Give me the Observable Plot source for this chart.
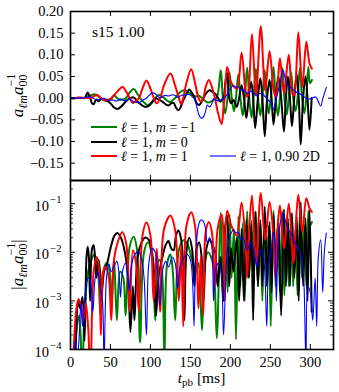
<!DOCTYPE html>
<html><head><meta charset="utf-8">
<script src="https://cdn.jsdelivr.net/npm/d3@7"></script>
<script src="https://cdn.jsdelivr.net/npm/@observablehq/plot@0.6"></script>
<style>
body{margin:0;background:#fff;}
#wrap{position:relative;width:339px;height:392px;}
#wrap svg{position:absolute;left:0;overflow:visible;}
</style></head><body><div id="wrap"></div>
<script>
// ---- data: [t_pb (ms), a_lm / a_00] ----
const green = [
[0,1e-6],[5,3e-5],[8,3e-4],[11,5e-4],[14.5,4e-5],[18,8e-4],[22,0.004],[26,0.007],[30,0.009],[34,0.005],[37.5,5e-4],[41,-0.004],[45,-0.006],[49,-0.004],[51,-6e-4],[54.5,0.007],[58,4e-4],[62,-0.004],[66,-0.003],[69,-5e-4],[74,0.013],[79,0.021],[83,0.012],[87,1.4e-4],[92,-0.01],[97,-0.016],[102,-0.008],[106,4e-4],[109,0.006],[112,0.007],[115,0.003],[117.5,6e-5],[121,-0.006],[125,-0.009],[128,-0.004],[131,4e-4],[136,0.012],[142,0.018],[147,0.014],[152,0.007],[157,0.004],[160,0.006],[164.5,2.5e-4],[168,-0.006],[172,-0.01],[177,-0.007],[180,-0.003],[183,1.7e-4],
[188,0.065],[190.5,2e-3],[193.5,-0.035],[196.5,1.5e-3],
[199,0.06],[201.5,3e-3],[204.5,-0.03],[207,1.6e-4],
[210,0.055],[212.5,2e-3],[215.5,-0.04],[218,1e-3],
[221,0.07],[223.5,3e-3],[226.5,-0.045],[229,2e-3],
[232,0.068],[234.5,2e-3],[237.5,-0.04],[240,1e-3],
[243,0.065],[245.5,2e-3],[248,-0.035],[250.5,3e-4],
[254,0.072],[256.5,2e-3],[259.5,-0.04],[262,1.5e-3],
[265,0.07],[267.5,1.3e-3],[270.5,-0.038],[273,2e-3],
[276,0.06],[278.5,2e-3],[281.5,-0.03],[284,1.3e-3],
[287,0.07],[289.5,3e-3],[292.5,-0.035],[295,2e-3],
[297.5,0.072],[299.5,0.035],[302,0.042]
];
const black = [
[0,1e-6],[4,2e-5],[7,2e-4],[9.5,1e-3],[12,7e-4],[15,1.2e-3],[17.5,1.5e-4],[20,0.008],[21.5,0.013],[23,0.008],[24.5,1e-3],[27,-0.012],[29,-0.014],[31,-0.006],[32.5,-0.003],[35,-0.007],[37,-0.004],[39,-0.0014],[42,-0.004],[46,-0.006],[50,-0.012],[55,-0.022],[58.5,-0.025],[63,-0.02],[68,-0.01],[72,-0.003],[75,-2.3e-4],[78,0.002],[80,4e-4],[84,-0.008],[89,-0.016],[93,-0.02],[98,-0.018],[102,-0.01],[105,-0.003],[107,-5e-4],[110,-0.003],[115,-0.008],[119,-0.014],[122.5,-0.017],[126,-0.012],[129,-0.011],[132,-0.022],[135,-0.028],[138,-0.02],[141,-0.005],[142.5,-4e-4],[145,0.01],[148.5,0.02],[152,0.012],[155,2e-3],[158,-0.012],[161,-0.016],[164,-0.008],[166.5,1e-3],[170,0.012],[174,0.018],[177,0.015],[181,0.01],[184,2e-3],[187.5,-0.008],[190,-2e-3],[191.5,1e-3],[194,0.04],[196,0.058],
[198.5,2e-3],[201,-0.012],[204,-0.004],[208,-0.02],[211,1e-3],[214,0.03],[217,1e-3],[220,-0.046],[223,3e-3],[226,0.038],[228.5,4e-4],[231,-0.069],[234.5,2e-3],[237.5,0.046],[240,2e-3],[243,-0.088],[246,2e-3],[249,0.042],[251.5,1.5e-3],[254,-0.061],[257,3e-3],[260,0.05],[263.5,5e-4],[267,-0.077],[269.5,2e-3],[272,0.05],[274.5,2e-3],[277,-0.064],[280,3e-3],[283,0.055],[285.5,1e-3],[288,-0.107],[291,2e-3],[294,0.05],[296.5,1e-3],[299,-0.073],[301.7,6e-4]
];
const red = [
[0,1e-6],[4,1e-4],[7,6e-4],[10,1.1e-3],[13,8e-4],[16,4e-4],[19,9e-4],[22,3e-4],[25,3e-5],[29,0.004],[33,0.008],[36,0.004],[38,2e-4],[41,-0.004],[44,-0.005],[48,-0.003],[51,-4e-4],[54,0.006],[58,0.014],[65,0.026],[70,0.014],[74,6e-4],[78,-0.011],[82,-0.006],[85.5,-6e-4],[90,0.022],[95,0.041],[100,0.022],[104,1e-3],[108,-0.012],[112,-6e-4],[117,0.03],[125,0.057],[131,0.028],[135.5,1e-3],[138.5,-0.014],[141,-3e-4],[145,0.035],[151,0.067],[156,0.033],[160,7e-4],[163,-0.008],[166,-5e-4],[169,0.025],[173,0.042],[177,0.025],[180.5,2e-3],[184,-0.03],[189,-0.06],[191.5,-0.02],[193,1e-3],[196,0.072],[201,0.036],[208,0.022],[214,0.105],[219,0.015],[221,3e-3],[223,0.02],[227,0.148],[232,0.006],[238,0.166],[243.5,0.018],[249,0.108],[254,0.02],[256.5,3e-3],[259,0.03],[262,0.092],[267,0.012],[273,0.1],[277,0.015],[279,6e-3],[281,0.02],[285,0.152],[290,0.026],[295,0.13],[299,0.08],[302,0.068]
];
const blue = [
[0,1e-6],[3,6e-5],[6,1.5e-4],[8,5e-5],[11,2e-4],[13,9e-4],[15,3e-4],[18,1.2e-3],[22,0.003],[25,0.0025],[28,6e-4],[31,-0.003],[34,-0.004],[37,-0.002],[40,-0.001],[42,-6e-5],[45,-0.003],[48,-0.0058],[51,-0.004],[54,-0.005],[58,-0.0065],[61,-0.003],[62.5,-0.0012],[65,-0.004],[69,-0.006],[72,-0.003],[73.5,-0.0016],[76,-0.005],[80,-0.0088],[85,-0.0103],[89,-0.007],[92,-0.003],[95,-2e-4],[98,0.006],[102,0.012],[106,0.01],[109,0.004],[112,8e-4],[115,0.004],[119,0.0065],[123,0.005],[127,0.008],[131,0.006],[134,0.0018],[137,0.005],[142,0.008],[146,0.009],[150,0.007],[153,0.002],[154.5,-3e-4],[157,-0.012],[160,-0.035],[163,-0.046],[166,-0.044],[169,-0.03],[171,-0.016],[174,-0.02],[177,-0.012],[179,-1e-3],[182,-0.005],[186,-0.006],[189,-0.003],[191.5,-2e-4],[195,0.006],[198,0.018],[201,0.025],[204,0.029],[207,0.025],[210,0.026],[213,0.018],[216,0.02],[221,0.011],[225,0.016],[229,0.012],[233,0.005],[236,0.01],[240,0.011],[243,0.004],[245.5,3e-4],[248,-0.006],[251,-0.01],[254,-0.026],[256,-0.013],[257.5,-1e-3],[260,0.018],[263,0.045],[266,0.065],[268,0.05],[270,0.038],[273,0.028],[276,0.024],[280,0.017],[284,0.012],[288,0.009],[291,0.005],[294.5,6e-5],[297,-0.002],[300,-0.0015],[303,4e-4],[306,0.003],[308,3e-4],[310,-0.008],[313,-0.018],[315.5,-1.5e-3],[317.5,0.01],[320,0.025]
];
const seriesNames = ["m = −1", "m = 0", "m = 1", "0.90 2D"];
const seriesColors = ["#008000", "#000000", "#ff0000", "#0000ff"];
const seriesWidths = [2, 2, 2, 1.1];
const seriesData = [green, black, red, blue];

const xTicks = [0, 50, 100, 150, 200, 250, 300];
const linTicks = [-0.15, -0.10, -0.05, 0, 0.05, 0.10, 0.15, 0.20];
const logExps = [-4, -3, -2, -1];
const logTicks = logExps.map(e => Math.pow(10, e));
const minorTicks = logTicks.flatMap(d => d3.range(2, 10).map(k => k * d)).filter(v => v <= 0.3);
const xDomain = [0, 329];
const topDomain = [-0.19, 0.20];
const botDomain = [1e-4, 0.3];

// ---- layout ----
const W = 339, ML = 70, MR = 6;
const PW = W - ML - MR;
const FONT = "Liberation Serif, Times New Roman, serif";
const wrap = document.getElementById("wrap");

function edgeTicks(PH, yTickVals, yMinorVals) {
  const m = [];
  m.push(Plot.tickX(xTicks, {x: d => d, insetBottom: PH - 5, stroke: "black", strokeWidth: 1}));
  m.push(Plot.tickX(xTicks, {x: d => d, insetTop: PH - 5, stroke: "black", strokeWidth: 1}));
  m.push(Plot.tickY(yTickVals, {y: d => d, insetRight: PW - 5, stroke: "black", strokeWidth: 1}));
  m.push(Plot.tickY(yTickVals, {y: d => d, insetLeft: PW - 5, stroke: "black", strokeWidth: 1}));
  if (yMinorVals) {
    m.push(Plot.tickY(yMinorVals, {y: d => d, insetRight: PW - 3, stroke: "black", strokeWidth: 0.8}));
    m.push(Plot.tickY(yMinorVals, {y: d => d, insetLeft: PW - 3, stroke: "black", strokeWidth: 0.8}));
  }
  return m;
}

// ---- top panel ----
const topH = 181, topMT = 11, topMB = 1;
const topPlot = Plot.plot({
  width: W, height: topH, marginLeft: ML, marginRight: MR, marginTop: topMT, marginBottom: topMB,
  style: {fontFamily: FONT, fontSize: "14.5px", color: "black", background: "transparent", overflow: "visible"},
  x: {domain: xDomain, axis: null},
  y: {domain: topDomain},
  marks: [
    ...seriesData.map((s, i) => Plot.line(s, {x: d => d[0], y: d => d[1], stroke: seriesColors[i], strokeWidth: seriesWidths[i], curve: "catmull-rom", clip: true})),
    ...edgeTicks(topH - topMT - topMB, linTicks),
    Plot.axisY(linTicks, {tickSize: 0, tickPadding: 7, label: null, tickFormat: d => (d < 0 ? "\u2212" : "") + Math.abs(d).toFixed(2)}),
    Plot.frame({stroke: "black", strokeWidth: 1.6})
  ]
});
topPlot.style.top = "0px";
wrap.appendChild(topPlot);

// ---- bottom panel ----
const botTop = 179, botH = 213, botMT = 1, botMB = 43;
const botPlot = Plot.plot({
  width: W, height: botH, marginLeft: ML, marginRight: MR, marginTop: botMT, marginBottom: botMB,
  style: {fontFamily: FONT, fontSize: "14.5px", color: "black", background: "transparent", overflow: "visible"},
  x: {domain: xDomain},
  y: {type: "log", domain: botDomain},
  marks: [
    ...seriesData.map((s, i) => Plot.line(s, {x: d => d[0], y: d => Math.abs(d[1]), stroke: seriesColors[i], strokeWidth: seriesWidths[i], curve: "catmull-rom", clip: true})),
    ...edgeTicks(botH - botMT - botMB, logTicks, minorTicks),
    Plot.axisX(xTicks, {tickSize: 0, tickPadding: 7, label: null, tickFormat: d => String(d)}),
    Plot.axisY(logTicks, {tickSize: 0, tickPadding: 21.5, dy: 2.5, label: null, tickFormat: () => "10"}),
    Plot.text(logExps, {y: d => Math.pow(10, d), frameAnchor: "left", text: d => "\u2212" + (-d), dx: -9, dy: -4, textAnchor: "end", fontSize: 10.5}),
    Plot.frame({stroke: "black", strokeWidth: 1.6})
  ]
});
botPlot.style.top = botTop + "px";
wrap.appendChild(botPlot);

// ---- y labels ----
function ylabel(svg, cx, cy, abs) {
  const t = d3.select(svg).append("text")
    .attr("transform", `translate(${cx},${cy}) rotate(-90)`)
    .attr("text-anchor", "middle").attr("font-size", 17).attr("font-family", FONT).attr("fill", "black");
  if (abs) t.append("tspan").text("|");
  t.append("tspan").attr("font-style", "italic").text("a");
  t.append("tspan").attr("font-style", "italic").attr("font-size", 12).attr("dy", 3.5).text("\u2113m");
  t.append("tspan").attr("font-style", "italic").attr("dy", -3.5).text("a");
  t.append("tspan").attr("font-size", 12).attr("dy", 3.5).text("00");
  t.append("tspan").attr("font-size", 12).attr("dx", -12).attr("dy", -11.5).text("\u22121");
  t.append("tspan").attr("dy", 8).text(abs ? "|" : "");
}
ylabel(topPlot, 23, topMT + (topH - topMT - topMB) / 2, false);
ylabel(botPlot, 23, botMT + (botH - botMT - botMB) / 2, true);

// ---- x label ----
{
  const t = d3.select(botPlot).append("text")
    .attr("x", ML + PW / 2).attr("y", 383 - botTop)
    .attr("text-anchor", "middle").attr("font-size", 15.5).attr("font-family", FONT).attr("fill", "black");
  t.append("tspan").attr("font-style", "italic").text("t");
  t.append("tspan").attr("font-size", 11).attr("dy", 3).text("pb");
  t.append("tspan").attr("dy", -3).text(" [ms]");
}

// ---- annotation and legend (top panel) ----
{
  const g = d3.select(topPlot).append("g").attr("font-family", FONT).attr("fill", "black").attr("text-anchor", "start");
  g.append("text").attr("x", 92).attr("y", 37).attr("font-size", 15.5).attr("text-anchor", "start").text("s15 1.00");
  const rows = [
    {i: 0, lx: 91, y: 127},
    {i: 1, lx: 91, y: 142},
    {i: 2, lx: 91, y: 156},
    {i: 3, lx: 210, y: 156}
  ];
  rows.forEach(r => {
    g.append("line").attr("x1", r.lx).attr("x2", r.lx + 26).attr("y1", r.y).attr("y2", r.y)
      .attr("stroke", seriesColors[r.i]).attr("stroke-width", seriesWidths[r.i]);
    const t = g.append("text").attr("x", r.lx + 30).attr("y", r.y + 4.5).attr("font-size", 14).attr("text-anchor", "start");
    t.append("tspan").attr("font-style", "italic").text("\u2113");
    t.append("tspan").text(" = 1, ");
    const nm = seriesNames[r.i];
    if (nm.startsWith("m")) {
      t.append("tspan").attr("font-style", "italic").text("m");
      t.append("tspan").text(nm.slice(1));
    } else {
      t.append("tspan").text(nm);
    }
  });
}
</script>
</body></html>
